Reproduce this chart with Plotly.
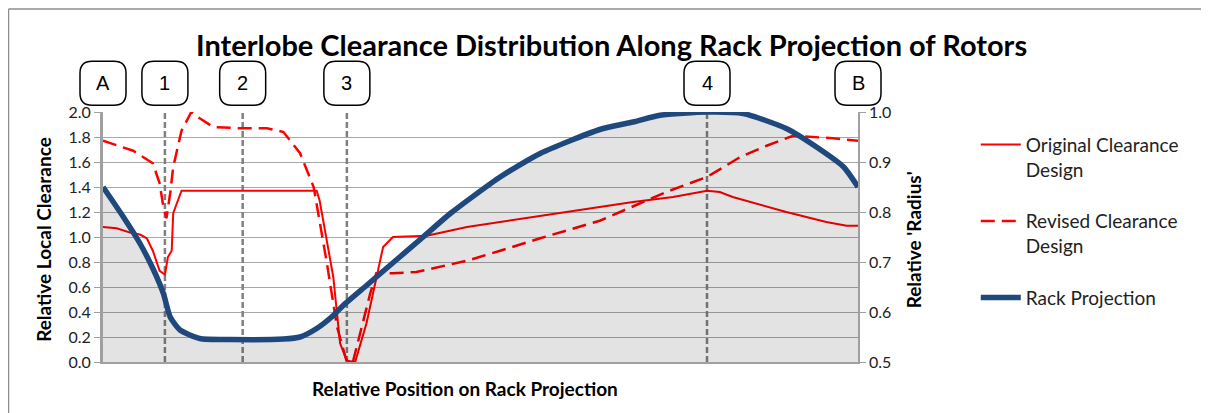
import plotly.graph_objects as go

# ---------------- data ----------------
rack_x = [0.000, 0.027, 0.049, 0.067, 0.080, 0.089, 0.102, 0.128, 0.168, 0.239, 0.261, 0.283,
          0.305, 0.318, 0.349, 0.362, 0.393, 0.424, 0.460, 0.526, 0.579, 0.658, 0.702, 0.738,
          0.800, 0.848, 0.905, 0.945, 0.981, 1.000]
rack_r = [0.850, 0.790, 0.737, 0.684, 0.637, 0.590, 0.564, 0.547, 0.545, 0.546, 0.550, 0.567,
          0.593, 0.613, 0.653, 0.670, 0.710, 0.750, 0.797, 0.870, 0.917, 0.965, 0.980, 0.9935,
          1.000, 0.997, 0.967, 0.930, 0.890, 0.850]

orig_x = [0.000, 0.018, 0.036, 0.049, 0.058, 0.066, 0.075, 0.082, 0.086, 0.089, 0.091, 0.093,
          0.104, 0.283, 0.287, 0.305, 0.314, 0.323, 0.334, 0.349, 0.371, 0.384, 0.429, 0.482,
          0.526, 0.579, 0.658, 0.702, 0.755, 0.800, 0.817, 0.834, 0.905, 0.958, 0.985, 1.000]
orig_c = [1.08, 1.07, 1.035, 1.02, 0.99, 0.89, 0.73, 0.70, 0.84, 0.87, 0.89, 1.19,
          1.37, 1.37, 1.29, 0.68, 0.15, 0.01, 0.0, 0.31, 0.92, 1.0, 1.01, 1.08,
          1.12, 1.17, 1.24, 1.28, 1.32, 1.37, 1.36, 1.32, 1.20, 1.12, 1.09, 1.09]

rev_x = [0.000, 0.040, 0.066, 0.075, 0.080, 0.084, 0.089, 0.093, 0.104, 0.117, 0.128, 0.146,
         0.181, 0.217, 0.239, 0.261, 0.279, 0.296, 0.310, 0.323, 0.331, 0.354, 0.362, 0.384,
         0.415, 0.482, 0.526, 0.579, 0.658, 0.746, 0.800, 0.844, 0.879, 0.914, 0.967, 1.000]
rev_c = [1.77, 1.69, 1.59, 1.43, 1.24, 1.15, 1.35, 1.56, 1.85, 2.0, 1.95, 1.88,
         1.87, 1.87, 1.84, 1.67, 1.40, 0.81, 0.28, 0.0, 0.0, 0.55, 0.71, 0.71,
         0.72, 0.81, 0.89, 0.99, 1.13, 1.36, 1.48, 1.64, 1.73, 1.81, 1.79, 1.77]

marker_pos = [0.082, 0.185, 0.323, 0.800]
marker_lbl = ["1", "2", "3", "4"]
end_pos = [0.0, 1.0]
end_lbl = ["A", "B"]

left_ticks = [0.0, 0.2, 0.4, 0.6, 0.8, 1.0, 1.2, 1.4, 1.6, 1.8, 2.0]
right_ticks = [0.5, 0.6, 0.7, 0.8, 0.9, 1.0]

title = "Interlobe Clearance Distribution Along Rack Projection of Rotors"
FONT = "Lato"

fig = go.Figure()

# shaded area under rack projection
fig.add_trace(go.Scatter(x=rack_x, y=rack_r, yaxis="y2", mode="lines",
                         line=dict(width=0, shape="spline", smoothing=0.6),
                         fill="tozeroy", fillcolor="rgba(0,0,0,0.11)",
                         showlegend=False, hoverinfo="skip"))

# vertical dashed reference lines
for p in marker_pos:
    fig.add_trace(go.Scatter(x=[p, p], y=[left_ticks[0], left_ticks[-1]], mode="lines",
                             line=dict(color="#808080", width=2.5, dash="6px,3px"),
                             showlegend=False, hoverinfo="skip"))

fig.add_trace(go.Scatter(x=orig_x, y=orig_c, mode="lines", name="Original Clearance<br>Design",
                         legendgroup="a", line=dict(color="#FF0000", width=2)))
fig.add_trace(go.Scatter(x=rev_x, y=rev_c, mode="lines", name="Revised Clearance<br>Design",
                         legendgroup="b", line=dict(color="#FF0000", width=2.5, dash="14px,7px")))
fig.add_trace(go.Scatter(x=rack_x, y=rack_r, yaxis="y2", mode="lines", name="Rack Projection",
                         legendgroup="c",
                         line=dict(color="#1F497D", width=5.5, shape="spline", smoothing=0.6)))

# rounded label boxes (x range is [0, 1], so paper x == data x)
w, h, r = 23, 22, 12
box_path = (f"M {-w+r},{-h} L {w-r},{-h} Q {w},{-h} {w},{-h+r} L {w},{h-r} Q {w},{h} {w-r},{h} "
            f"L {-w+r},{h} Q {-w},{h} {-w},{h-r} L {-w},{-h+r} Q {-w},{-h} {-w+r},{-h} Z")
shapes = []
annotations = []
box_y = 1.115
for p, lab in zip([end_pos[0]] + marker_pos + [end_pos[1]],
                  [end_lbl[0]] + marker_lbl + [end_lbl[1]]):
    shapes.append(dict(type="path", xref="paper", yref="paper", xsizemode="pixel", ysizemode="pixel",
                       xanchor=p, yanchor=box_y, path=box_path,
                       line=dict(color="black", width=1.5), fillcolor="white", layer="above"))
    annotations.append(dict(x=p, y=box_y, xref="paper", yref="paper", text=lab, showarrow=False,
                            font=dict(family="Liberation Sans", size=20, color="black"),
                            xanchor="center", yanchor="middle"))

# chart frame (top and left)
shapes.append(dict(type="line", xref="paper", yref="paper", x0=-0.1252, x1=1.5, y0=1.412, y1=1.412,
                   line=dict(color="#8c8c8c", width=1.5)))
shapes.append(dict(type="line", xref="paper", yref="paper", x0=-0.1252, x1=-0.1252, y0=-0.3, y1=1.412,
                   line=dict(color="#8c8c8c", width=1.5)))

annotations.append(dict(text="<b>" + title + "</b>", x=0.673, y=1.27, xref="paper", yref="paper",
                        showarrow=False, xanchor="center", yanchor="middle",
                        font=dict(family=FONT, size=29, color="black")))
annotations.append(dict(text="<b>Relative Position on Rack Projection</b>", x=0.479, y=-0.104,
                        xref="paper", yref="paper", showarrow=False, xanchor="center", yanchor="middle",
                        font=dict(family=FONT, size=19, color="black")))
annotations.append(dict(text="<b>Relative Local Clearance</b>", x=-0.079, y=0.49, textangle=-90,
                        xref="paper", yref="paper", showarrow=False, xanchor="center", yanchor="middle",
                        font=dict(family=FONT, size=19, color="black")))
annotations.append(dict(text="<b>Relative 'Radius'</b>", x=1.074, y=0.49, textangle=-90,
                        xref="paper", yref="paper", showarrow=False, xanchor="center", yanchor="middle",
                        font=dict(family=FONT, size=19, color="black")))

fig.update_layout(
    width=1209, height=413,
    margin=dict(l=95, r=359, t=104, b=59, pad=0),
    paper_bgcolor="white", plot_bgcolor="white",
    font=dict(family=FONT, size=16, color="#222"),
    xaxis=dict(range=[0, 1], showticklabels=False, ticks="", showgrid=False, zeroline=False,
               showline=True, linecolor="#a0a0a0", linewidth=2),
    yaxis=dict(range=[0, 2], tickvals=left_ticks, tickformat=".1f", showgrid=True,
               gridcolor="#a8a8a8", gridwidth=1, zeroline=False, showline=True,
               linecolor="#a0a0a0", linewidth=3, ticks="outside", ticklen=6, tickcolor="#a0a0a0",
               tickfont=dict(family=FONT, size=16, color="#222")),
    yaxis2=dict(range=[0.5, 1.0], tickvals=right_ticks, tickformat=".1f", overlaying="y",
                side="right", showgrid=False, zeroline=False, showline=True, linecolor="#a0a0a0",
                linewidth=1.5, ticks="outside", ticklen=6, tickcolor="#a0a0a0",
                tickfont=dict(family=FONT, size=16, color="#222")),
    legend=dict(x=1.156, y=0.945, xanchor="left", yanchor="top", bgcolor="rgba(0,0,0,0)",
                font=dict(family=FONT, size=19, color="#222"), tracegroupgap=24,
                itemwidth=40, valign="top"),
    shapes=shapes, annotations=annotations,
)

fig.write_html("out.html")
